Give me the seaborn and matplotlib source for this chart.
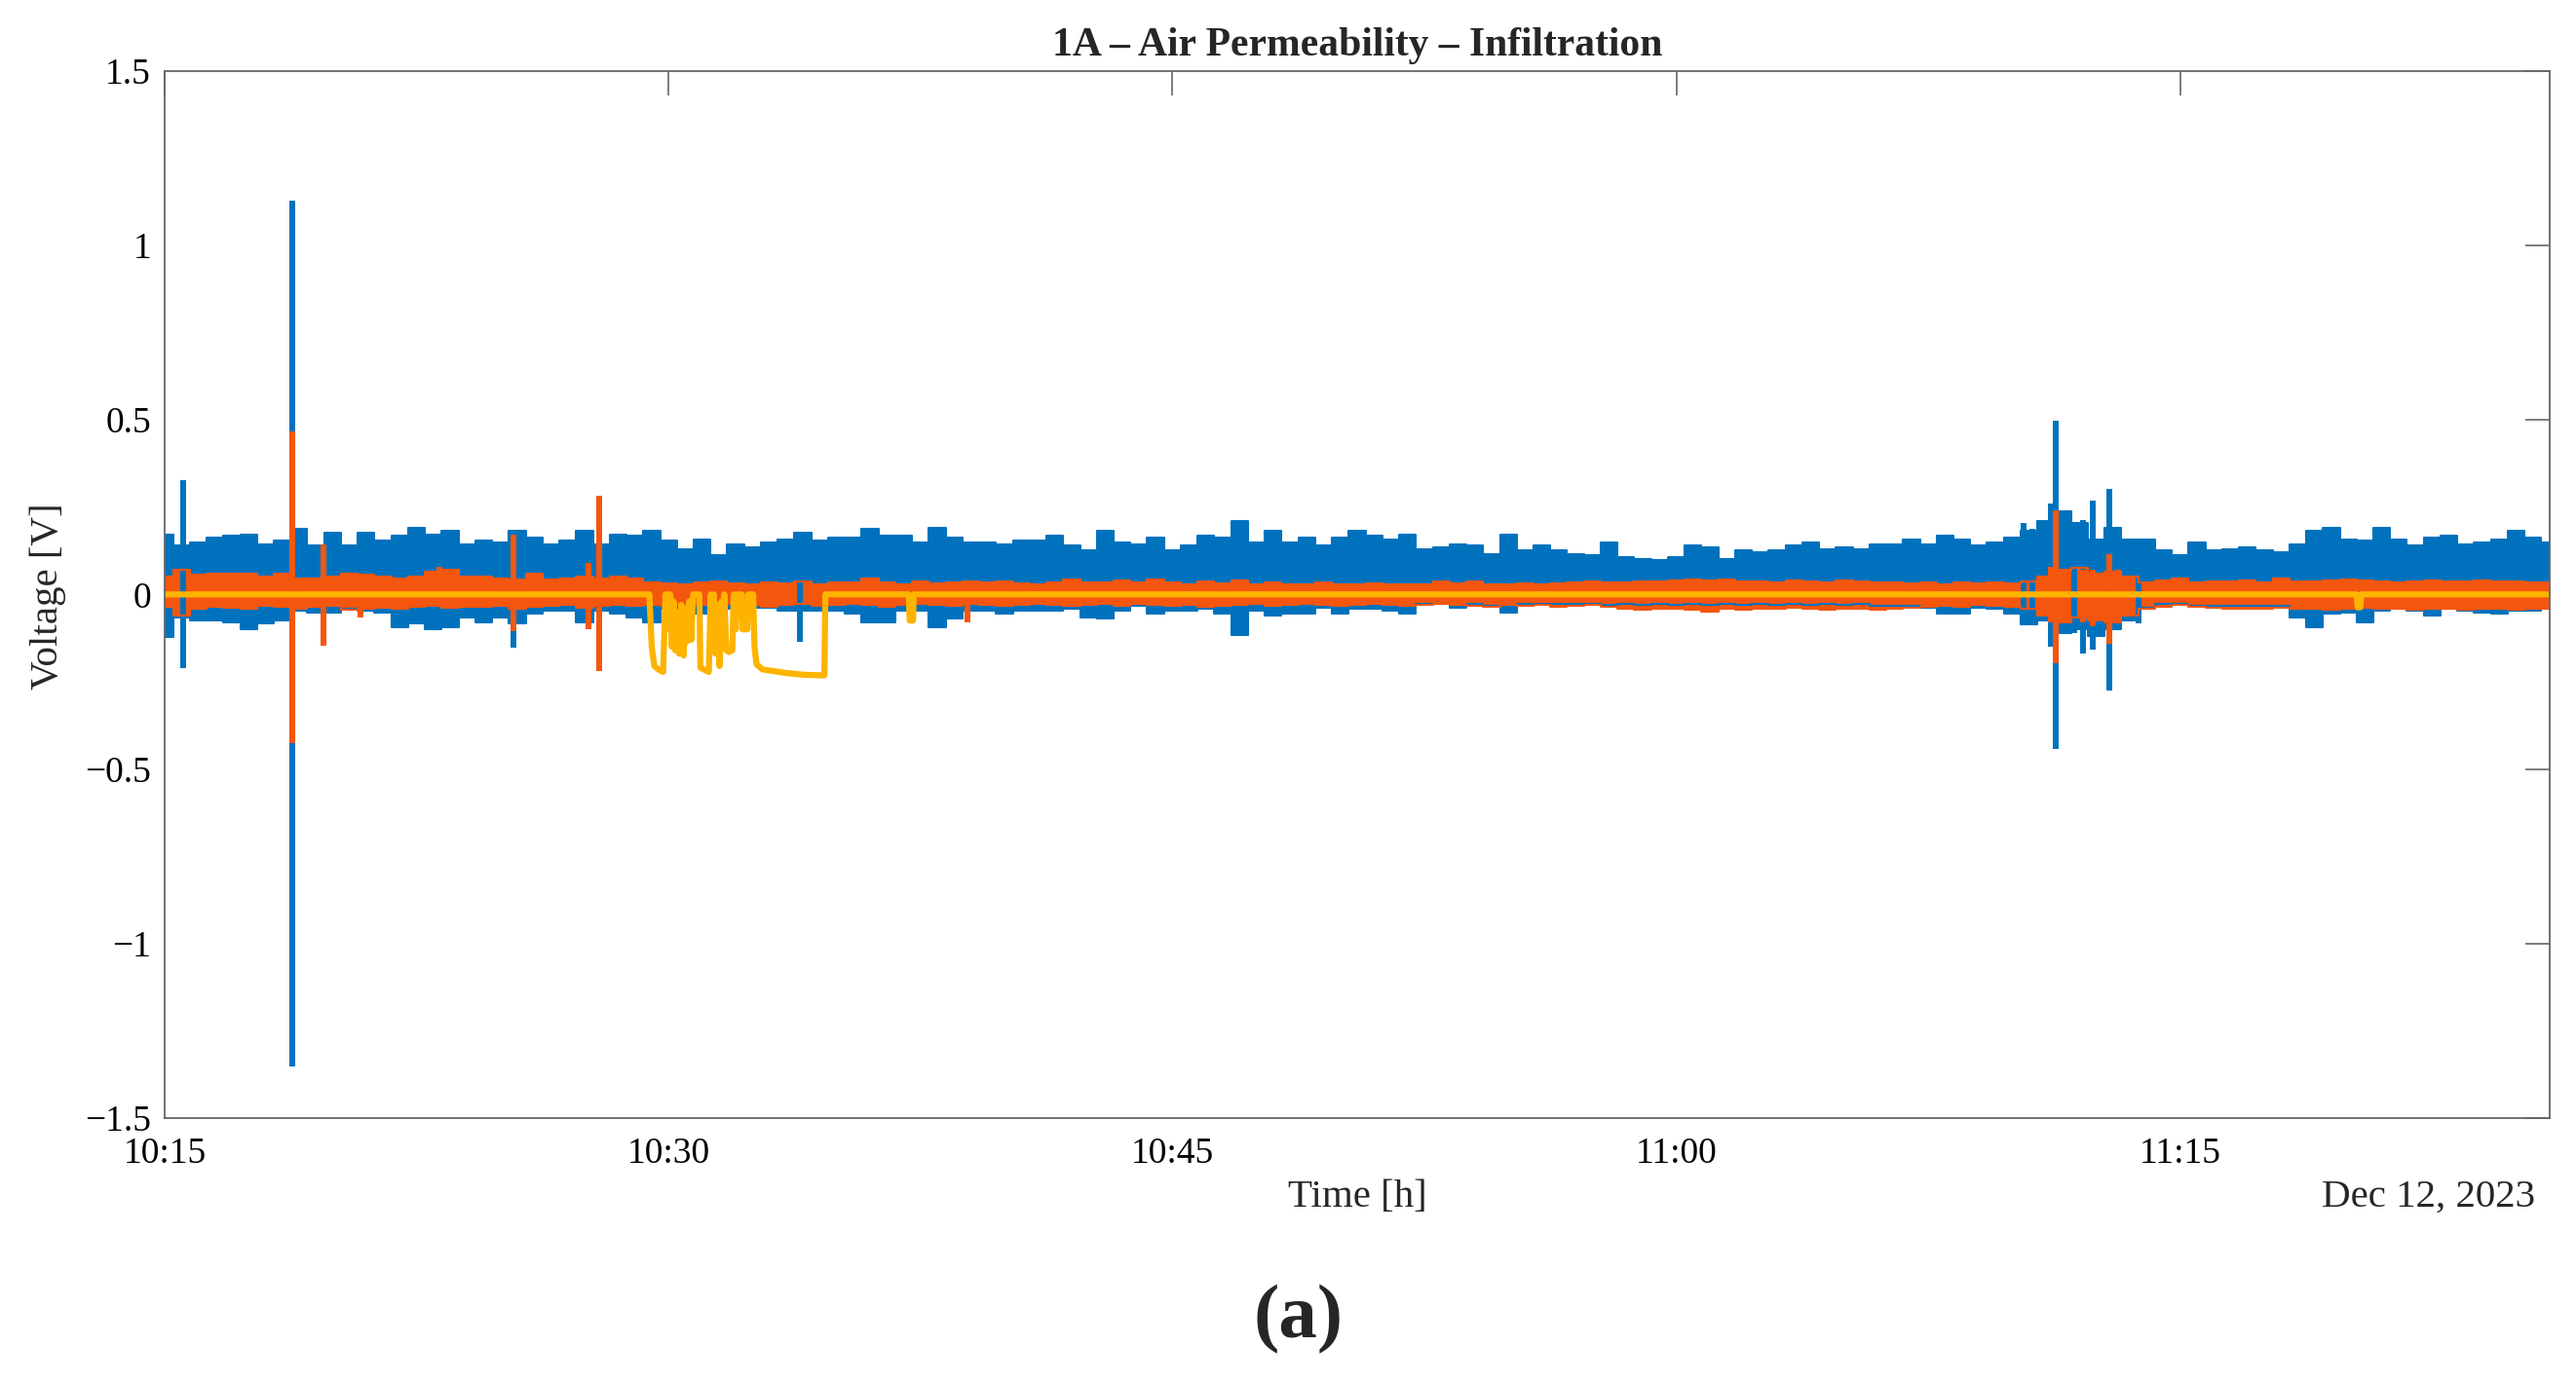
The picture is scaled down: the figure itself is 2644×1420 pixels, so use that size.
import numpy as np
import pandas as pd
import matplotlib
matplotlib.use("Agg")
import matplotlib.pyplot as plt
import seaborn as sns
from matplotlib.ticker import FixedLocator, FuncFormatter

# ---------------- data ----------------
BIN_MIN = 0.5  # envelope sampled every 30 s, minutes after 10:15

BLUE_HI = [0.172, 0.140, 0.149, 0.163, 0.168, 0.170, 0.144, 0.155, 0.187, 0.140,
           0.177, 0.140, 0.177, 0.153, 0.168, 0.190, 0.172, 0.182, 0.144, 0.153,
           0.149, 0.182, 0.163, 0.144, 0.153, 0.182, 0.144, 0.172, 0.168,
           0.182, 0.154, 0.130, 0.158, 0.112, 0.144, 0.135, 0.149, 0.158, 0.177,
           0.154, 0.163, 0.163, 0.187, 0.168, 0.168, 0.149, 0.191, 0.163, 0.149,
           0.149, 0.144, 0.154, 0.154, 0.168, 0.140, 0.126, 0.182,
           0.149, 0.144, 0.163, 0.126, 0.140, 0.168, 0.163, 0.209, 0.149, 0.182,
           0.149, 0.163, 0.140, 0.163, 0.182, 0.168, 0.158, 0.172, 0.130, 0.135,
           0.144, 0.140, 0.116, 0.172, 0.126, 0.140, 0.126, 0.116, 0.112,
           0.149, 0.107, 0.102, 0.098, 0.107, 0.140, 0.135, 0.102, 0.126, 0.121,
           0.126, 0.140, 0.149, 0.130, 0.135, 0.130, 0.144, 0.144, 0.158, 0.144,
           0.168, 0.158, 0.140, 0.149, 0.163, 0.182, 0.209, 0.237,
           0.205, 0.158, 0.191, 0.158, 0.158, 0.126, 0.112, 0.149, 0.126, 0.130,
           0.135, 0.126, 0.121, 0.144, 0.182, 0.191, 0.158, 0.154, 0.191, 0.158,
           0.140, 0.163, 0.168, 0.144, 0.149, 0.158, 0.182, 0.163, 0.149]

BLUE_LO = [-0.121, -0.065, -0.075, -0.075, -0.079, -0.100, -0.084, -0.075, -0.046, -0.051,
           -0.051, -0.042, -0.046, -0.051, -0.093, -0.084, -0.100, -0.093, -0.065, -0.079,
           -0.065, -0.084, -0.056, -0.046, -0.046, -0.079, -0.046, -0.056, -0.065,
           -0.079, -0.042, -0.037, -0.056, -0.037, -0.042, -0.037, -0.037, -0.046, -0.046,
           -0.046, -0.046, -0.056, -0.079, -0.079, -0.046, -0.046, -0.093, -0.070, -0.046,
           -0.046, -0.056, -0.046, -0.046, -0.046, -0.042, -0.065, -0.070,
           -0.046, -0.033, -0.056, -0.046, -0.046, -0.042, -0.056, -0.117, -0.046, -0.061,
           -0.056, -0.056, -0.037, -0.056, -0.042, -0.042, -0.046, -0.056, -0.028, -0.028,
           -0.037, -0.028, -0.033, -0.051, -0.028, -0.028, -0.028, -0.028, -0.028,
           -0.030, -0.028, -0.030, -0.028, -0.030, -0.028, -0.030, -0.028, -0.030, -0.028,
           -0.030, -0.028, -0.030, -0.028, -0.030, -0.028, -0.033, -0.033, -0.033, -0.037,
           -0.056, -0.056, -0.037, -0.042, -0.056, -0.086, -0.074, -0.112,
           -0.100, -0.120, -0.100, -0.074, -0.037, -0.028, -0.028, -0.033, -0.033, -0.033,
           -0.033, -0.033, -0.033, -0.065, -0.093, -0.056, -0.051, -0.079, -0.046, -0.042,
           -0.046, -0.061, -0.042, -0.046, -0.051, -0.056, -0.046, -0.046, -0.042]

ORANGE_HI = [0.050, 0.070, 0.056, 0.060, 0.060, 0.060, 0.050, 0.060, 0.046, 0.046,
             0.050, 0.060, 0.056, 0.050, 0.046, 0.050, 0.065, 0.070, 0.050, 0.050,
             0.046, 0.042, 0.060, 0.042, 0.046, 0.050, 0.046, 0.050, 0.046,
             0.035, 0.032, 0.030, 0.034, 0.037, 0.032, 0.030, 0.035, 0.032, 0.036,
             0.030, 0.034, 0.033, 0.045, 0.034, 0.030, 0.036, 0.032, 0.034, 0.038,
             0.033, 0.036, 0.032, 0.030, 0.035, 0.042, 0.033, 0.035,
             0.040, 0.035, 0.042, 0.033, 0.030, 0.038, 0.032, 0.040, 0.030, 0.033,
             0.028, 0.030, 0.033, 0.030, 0.028, 0.032, 0.030, 0.028, 0.030, 0.036,
             0.032, 0.038, 0.030, 0.030, 0.032, 0.028, 0.032, 0.033, 0.036,
             0.035, 0.033, 0.036, 0.038, 0.040, 0.042, 0.040, 0.042, 0.038, 0.036,
             0.034, 0.040, 0.038, 0.035, 0.040, 0.036, 0.034, 0.033, 0.032, 0.034,
             0.030, 0.034, 0.032, 0.034, 0.032, 0.036, 0.050, 0.070,
             0.075, 0.060, 0.065, 0.050, 0.035, 0.040, 0.045, 0.035, 0.038, 0.036,
             0.040, 0.035, 0.045, 0.038, 0.036, 0.040, 0.042, 0.040, 0.036, 0.035,
             0.038, 0.040, 0.036, 0.038, 0.040, 0.036, 0.038, 0.035, 0.033]

ORANGE_LO = [-0.035, -0.060, -0.040, -0.035, -0.038, -0.040, -0.033, -0.035, -0.040, -0.035,
             -0.033, -0.045, -0.040, -0.038, -0.040, -0.035, -0.033, -0.038, -0.035, -0.035,
             -0.033, -0.040, -0.035, -0.033, -0.030, -0.038, -0.033, -0.030, -0.033,
             -0.030, -0.033, -0.028, -0.030, -0.033, -0.028, -0.030, -0.035, -0.030, -0.028,
             -0.033, -0.030, -0.028, -0.030, -0.035, -0.030, -0.028, -0.030, -0.033, -0.028,
             -0.030, -0.033, -0.030, -0.028, -0.030, -0.033, -0.030, -0.028,
             -0.033, -0.028, -0.030, -0.033, -0.030, -0.035, -0.033, -0.030, -0.028, -0.033,
             -0.030, -0.028, -0.030, -0.033, -0.030, -0.028, -0.030, -0.033, -0.030, -0.028,
             -0.030, -0.033, -0.035, -0.030, -0.033, -0.030, -0.035, -0.033, -0.030,
             -0.035, -0.040, -0.045, -0.042, -0.040, -0.045, -0.048, -0.040, -0.045, -0.042,
             -0.040, -0.038, -0.042, -0.045, -0.040, -0.042, -0.045, -0.040, -0.038, -0.035,
             -0.033, -0.035, -0.030, -0.033, -0.035, -0.040, -0.060, -0.080,
             -0.065, -0.075, -0.080, -0.060, -0.040, -0.035, -0.030, -0.035, -0.038, -0.040,
             -0.042, -0.040, -0.038, -0.042, -0.040, -0.045, -0.040, -0.038, -0.042, -0.040,
             -0.045, -0.042, -0.040, -0.045, -0.042, -0.040, -0.045, -0.042, -0.040]

# isolated spikes: time (min after 10:15), top, bottom
BLUE_SPIKE_T = [0.565, 3.81, 10.38, 18.9, 55.33, 55.6, 56.16, 56.3, 56.84, 57.12, 57.39, 57.9, 58.77]
BLUE_SPIKE_HI = [0.328, 1.128, 0.184, 0.100, 0.205, 0.187, 0.260, 0.496, 0.195, 0.214, 0.270, 0.303, 0.100]
BLUE_SPIKE_LO = [-0.212, -1.352, -0.153, -0.137, -0.089, -0.075, -0.149, -0.442, -0.112, -0.168, -0.158, -0.275, -0.083]

ORANGE_SPIKE_T = [3.81, 4.74, 5.83, 8.19, 10.38, 12.63, 12.93, 23.9, 56.16, 56.3, 57.12, 57.39, 57.9, 58.15]
ORANGE_SPIKE_HI = [0.467, 0.143, 0.030, 0.080, 0.170, 0.090, 0.283, 0.030, 0.080, 0.242, 0.070, 0.070, 0.116, 0.070]
ORANGE_SPIKE_LO = [-0.425, -0.148, -0.065, -0.030, -0.105, -0.100, -0.220, -0.079, -0.080, -0.196, -0.080, -0.090, -0.140, -0.030]

YEL_T = [0.0, 14.43, 14.50, 14.58, 14.70, 14.84, 14.88, 14.91, 14.98, 15.00, 15.05, 15.10, 15.15,
         15.20, 15.25, 15.32, 15.38, 15.45, 15.50, 15.55, 15.62, 15.68, 15.73, 15.92, 15.95, 16.20,
         16.26, 16.30, 16.35, 16.40, 16.45, 16.52, 16.58, 16.62, 16.66, 16.72, 16.80, 16.90, 16.94,
         17.00, 17.03, 17.18, 17.20, 17.35, 17.37, 17.52, 17.56, 17.62, 17.80, 18.50, 19.00, 19.64,
         19.67, 22.15, 22.18, 22.28, 22.30, 65.25, 65.28, 65.36, 65.39, 71.0]
YEL_V = [0.0, 0.0, -0.15, -0.205, -0.215, -0.222, -0.10, 0.0, 0.0, -0.10, 0.0, -0.15, -0.02,
         -0.16, -0.05, -0.17, -0.03, -0.175, -0.04, -0.135, -0.02, -0.13, 0.0, 0.0, -0.21, -0.222,
         0.0, -0.13, 0.0, -0.17, -0.03, -0.205, -0.02, -0.15, 0.0, -0.16, -0.165, -0.16, 0.0,
         -0.10, 0.0, 0.0, -0.10, -0.10, 0.0, 0.0, -0.15, -0.20, -0.215, -0.225, -0.23, -0.232,
         0.0, 0.0, -0.075, -0.075, 0.0, 0.0, -0.037, -0.037, 0.0, 0.0]

X_TICKS = [0, 15, 30, 45, 60]
X_TICK_LABELS = ["10:15", "10:30", "10:45", "11:00", "11:15"]
Y_TICKS = [-1.5, -1.0, -0.5, 0.0, 0.5, 1.0, 1.5]
X_END = 71.0

TITLE = "1A – Air Permeability – Infiltration"
XLABEL = "Time [h]"
YLABEL = "Voltage [V]"
DATE_LABEL = "Dec 12, 2023"
PANEL = "(a)"

BLUE = "#0072BD"
ORANGE = "#F5560E"
YELLOW = "#FDB300"

# ---------------- plotting ----------------
sns.set_style("white")
plt.rcParams["font.family"] = ["Liberation Serif", "DejaVu Serif"]
plt.rcParams["axes.unicode_minus"] = True

fig = plt.figure(figsize=(26.44, 14.2), dpi=100)
ax = fig.add_axes([0.0639, 0.1915, 0.9259, 0.7574])

t_grid = np.arange(len(BLUE_HI)) * BIN_MIN
bands = pd.DataFrame({"t": t_grid, "blue_hi": BLUE_HI, "blue_lo": BLUE_LO,
                      "orange_hi": ORANGE_HI, "orange_lo": ORANGE_LO})

SPIKE_LW = 4.3

# blue series
ax.fill_between(bands["t"], bands["blue_lo"], bands["blue_hi"], step="mid", color=BLUE, lw=0)
for col in ["blue_hi", "blue_lo"]:
    sns.lineplot(data=bands, x="t", y=col, color=BLUE, lw=1.5, drawstyle="steps-mid", ax=ax)
ax.vlines(BLUE_SPIKE_T, BLUE_SPIKE_LO, BLUE_SPIKE_HI, colors=BLUE, lw=SPIKE_LW)

# orange series
ax.fill_between(bands["t"], bands["orange_lo"], bands["orange_hi"], step="mid", color=ORANGE, lw=0)
for col in ["orange_hi", "orange_lo"]:
    sns.lineplot(data=bands, x="t", y=col, color=ORANGE, lw=1.5, drawstyle="steps-mid", ax=ax)
ax.vlines(ORANGE_SPIKE_T, ORANGE_SPIKE_LO, ORANGE_SPIKE_HI, colors=ORANGE, lw=SPIKE_LW)

# yellow series
yel = pd.DataFrame({"t": YEL_T, "v": YEL_V})
sns.lineplot(data=yel, x="t", y="v", color=YELLOW, lw=4.5, sort=False, estimator=None, ax=ax)

ax.set_xlim(0, X_END)
ax.set_ylim(-1.5, 1.5)
ax.xaxis.set_major_locator(FixedLocator(X_TICKS))
ax.set_xticklabels(X_TICK_LABELS)
ax.yaxis.set_major_locator(FixedLocator(Y_TICKS))
ax.yaxis.set_major_formatter(FuncFormatter(lambda v, p: ("%g" % v).replace("-", "\u2212")))
ax.set_xlabel("")
ax.set_ylabel("")

ax.tick_params(axis="both", direction="in", length=18, width=1.2, color="#666666",
               top=True, right=True, labelsize=27, labelcolor="black")
ax.tick_params(axis="x", pad=14)
ax.tick_params(axis="y", pad=10)
for s in ax.spines.values():
    s.set_visible(True)
    s.set_color("#666666")
    s.set_linewidth(1.3)

fig.text(0.527, 0.967, TITLE, ha="center", va="center", fontsize=30, weight="bold")
fig.text(0.527, 0.1345, XLABEL, ha="center", va="center", fontsize=29.5)
fig.text(0.984, 0.1345, DATE_LABEL, ha="right", va="center", fontsize=29.5)
fig.text(0.0185, 0.569, YLABEL, ha="center", va="center", rotation=90, fontsize=29.5)
fig.text(0.504, 0.046, PANEL, ha="center", va="center", fontsize=57, weight="bold")

fig.savefig("out.png", dpi=100)
